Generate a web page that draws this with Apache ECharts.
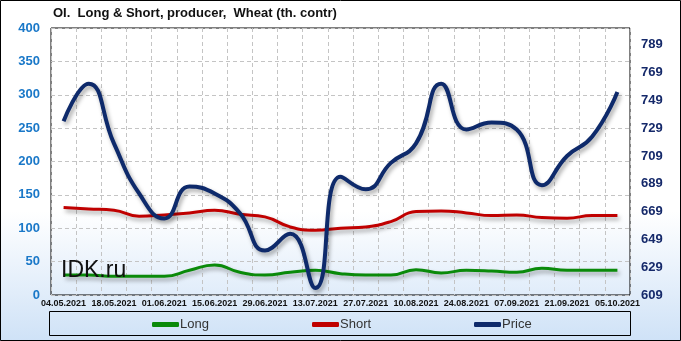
<!DOCTYPE html>
<html><head><meta charset="utf-8">
<script src="https://cdn.jsdelivr.net/npm/echarts@6/dist/echarts.min.js"></script>
<style>html,body{margin:0;padding:0;background:#fff}#c{width:681px;height:341px}</style>
</head><body><div id="c"></div>
<script>
var categories = ['04.05.2021','11.05.2021','18.05.2021','25.05.2021','01.06.2021','08.06.2021','15.06.2021','22.06.2021','29.06.2021','06.07.2021','13.07.2021','20.07.2021','27.07.2021','03.08.2021','10.08.2021','17.08.2021','24.08.2021','31.08.2021','07.09.2021','14.09.2021','21.09.2021','28.09.2021','05.10.2021'];
var longValues  = [30,30,28,28,28,37,45,34,30,34,37,32,30,30,38,33,37,36,34,40,37,37,37];
var shortValues = [131,129,127,118,120,123,127,121,117,102,97,100,102,110,125,126,123,119,120,116,115,119,119];
var priceValues = [734,761,718,682,664,687,682,668,641,653,614,694,685,704,718,761,728,733,728,688,709,723,755];
var leftTicks = {min:0, max:400, interval:50};
var rightTicks = {min:609, max:801, interval:20};

var chart = echarts.init(document.getElementById('c'), null, {renderer:'canvas'});
var lineShadow = {shadowColor:'rgba(0,0,0,0.35)', shadowBlur:4, shadowOffsetX:2, shadowOffsetY:3};
function legendAt(name, left) {
  return {data:[name], left:left, top:313, itemWidth:27, itemHeight:5, icon:'roundRect',
    itemGap:0, textStyle:{fontFamily:'Liberation Sans', fontSize:13, color:'#333', padding:[0,0,0,-4]},
    selectedMode:false};
}
chart.setOption({
  animation:false,
  backgroundColor:{type:'linear', x:0, y:0, x2:0, y2:1, colorStops:[
    {offset:0, color:'#ffffff'},{offset:0.62, color:'#ffffff'},{offset:1, color:'#cfe2f7'}]},
  title:{text:'OI.  Long & Short, producer,  Wheat (th. contr)', left:48, top:2,
    textStyle:{fontFamily:'Liberation Sans', fontWeight:'bold', fontSize:13, color:'#111'}},
  grid:{left:51, right:51, top:28, bottom:46, show:true, borderColor:'#000', borderWidth:1, backgroundColor:'transparent'},
  legend:[legendAt('Long',147), legendAt('Short',307), legendAt('Price',469)],
  xAxis:{type:'category', data:categories, boundaryGap:true,
    axisLine:{show:false}, axisTick:{show:false},
    axisLabel:{interval:1, margin:4, fontFamily:'Liberation Sans', fontWeight:'bold', fontSize:9, color:'#111'},
    splitLine:{show:true, interval:0, lineStyle:{color:'#c4c4c4', type:[4,3], width:1}}},
  yAxis:[
    {type:'value', min:leftTicks.min, max:leftTicks.max, interval:leftTicks.interval,
     axisLine:{show:false}, axisTick:{show:false},
     axisLabel:{margin:11, fontFamily:'Liberation Sans', fontWeight:'bold', fontSize:13, color:'#1a78c8'},
     splitLine:{show:true, lineStyle:{color:'#c4c4c4', type:[4,3], width:1}}},
    {type:'value', min:rightTicks.min, max:rightTicks.max, interval:rightTicks.interval,
     axisLine:{show:false}, axisTick:{show:false}, splitLine:{show:false},
     axisLabel:{margin:11, showMaxLabel:false, fontFamily:'Liberation Sans', fontWeight:'bold', fontSize:13, color:'#15296a'}}
  ],
  graphic:[
    {type:'rect', shape:{x:0.5, y:0.5, width:680, height:340}, style:{fill:'none', stroke:'#000', lineWidth:1}, z:100},
    {type:'rect', shape:{x:49.5, y:311.5, width:581, height:24}, style:{fill:'none', stroke:'#000', lineWidth:1}, z:100},
    {type:'text', left:61, top:259, style:{text:'IDK.ru', font:'23px "Liberation Sans"', fill:'#111'}, z:100}
  ],
  series:[
    {name:'Long', type:'line', data:longValues, yAxisIndex:0, smooth:0.5, symbol:'none',
     itemStyle:{color:'#0a8a0a'}, lineStyle:Object.assign({color:'#0a8a0a', width:3}, lineShadow)},
    {name:'Short', type:'line', data:shortValues, yAxisIndex:0, smooth:0.5, symbol:'none',
     itemStyle:{color:'#c00000'}, lineStyle:Object.assign({color:'#c00000', width:3}, lineShadow)},
    {name:'Price', type:'line', data:priceValues, yAxisIndex:1, smooth:0.5, symbol:'none',
     itemStyle:{color:'#0e2a6b'}, lineStyle:Object.assign({color:'#0e2a6b', width:4}, lineShadow)}
  ]
});
</script></body></html>
